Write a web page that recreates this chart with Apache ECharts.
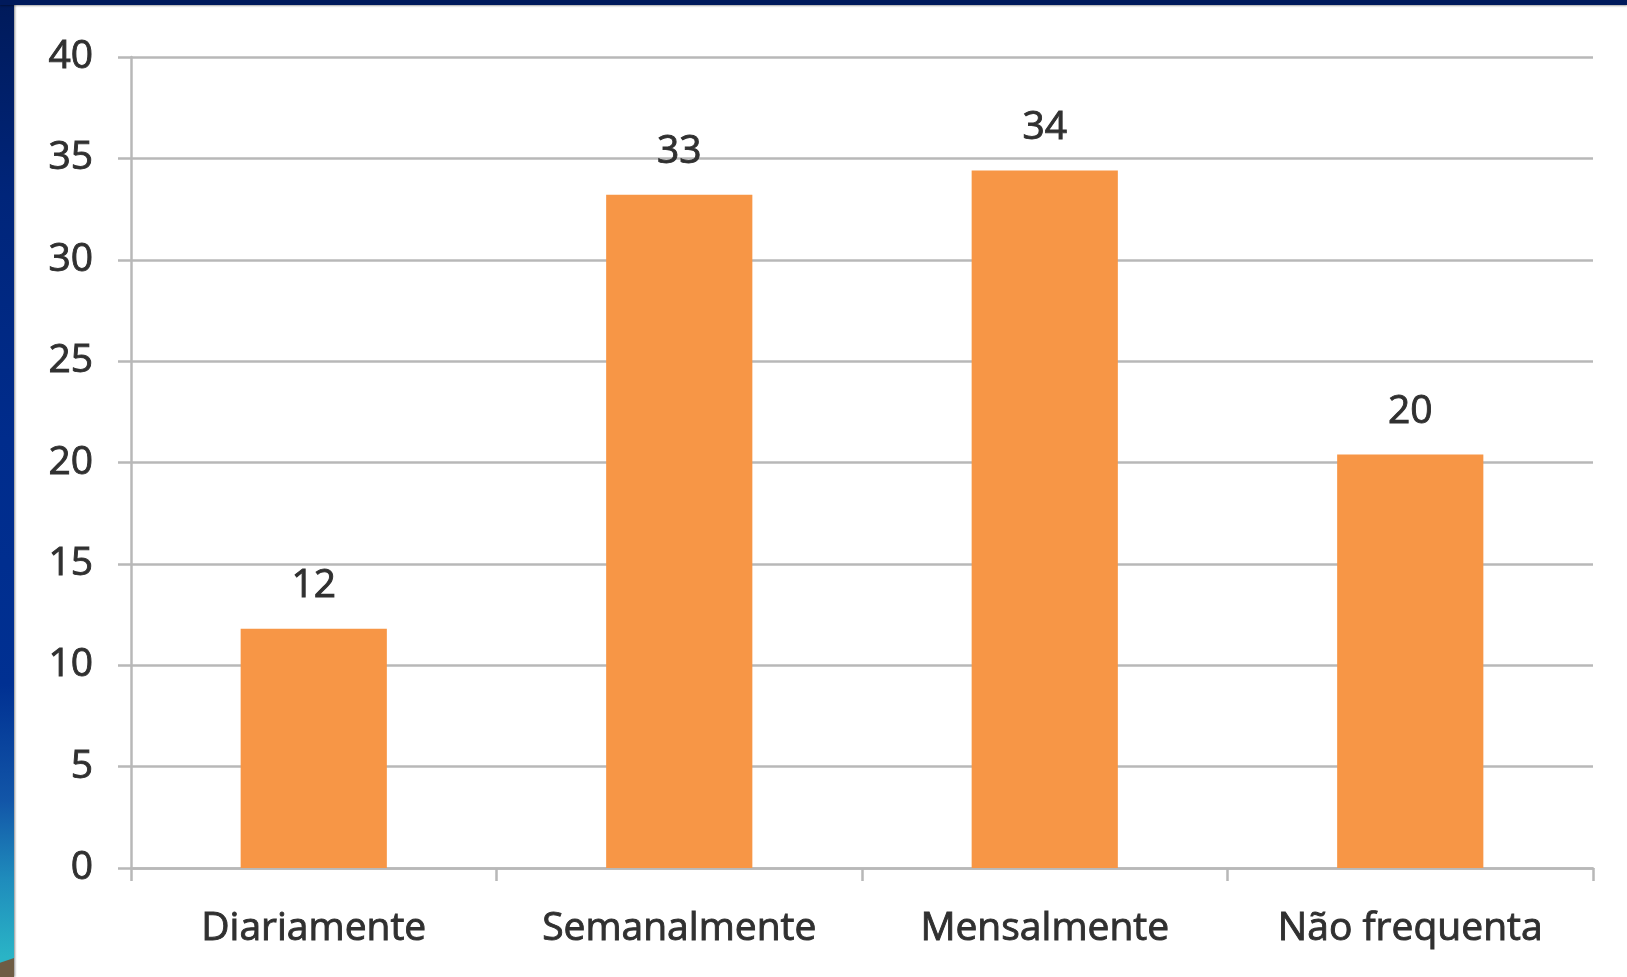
<!DOCTYPE html>
<html>
<head>
<meta charset="utf-8">
<script src="https://cdn.jsdelivr.net/npm/echarts@6/dist/echarts.min.js"></script>
<style>
  html, body { margin: 0; padding: 0; width: 1627px; height: 977px; overflow: hidden; background: #ffffff; }
  #top { position: absolute; left: 0; top: 0; width: 1627px; height: 5px; background: #001a5c; box-shadow: 0 1px 2px rgba(0,0,0,0.35); }
  #left { position: absolute; left: 0; top: 0; width: 14px; height: 977px;
    background: linear-gradient(to bottom, #001a5a 0%, #00257a 20%, #002c8c 45%, #003092 70%, #1256a8 82%, #1f8cbc 90%, #2ab4c6 98%);
    box-shadow: 1px 0 2px rgba(0,0,0,0.45); }
  #corner { position: absolute; left: 0; top: 958px; width: 14px; height: 19px; background: #6e5c44; clip-path: polygon(0 25%, 100% 0, 100% 100%, 0 100%); }
  #chart { position: absolute; left: 0; top: 0; width: 1627px; height: 977px; }
</style>
</head>
<body>
<div id="chart"></div>
<div id="left"></div>
<div id="corner"></div>
<div id="top"></div>
<script>
const categories = ["Diariamente", "Semanalmente", "Mensalmente", "Não frequenta"];
const values = [11.8, 33.2, 34.4, 20.4];
const yTicks = { min: 0, max: 40, interval: 5 };

const chart = echarts.init(document.getElementById('chart'), null, { renderer: 'canvas' });
const fontFamily = '"Open Sans", Lato, sans-serif';
const textColor = '#303030';
const gridColor = '#b8b8b8';
const textStyle = {
  color: textColor, fontFamily: fontFamily, fontSize: 39,
  textBorderColor: textColor, textBorderWidth: 0.9
};
chart.setOption({
  animation: false,
  backgroundColor: 'transparent',
  grid: { left: 131, right: 34, top: 57, bottom: 109, containLabel: false },
  xAxis: {
    type: 'category',
    data: categories,
    axisLine: { show: true, lineStyle: { color: gridColor, width: 2.5 } },
    axisTick: { show: true, length: 13, alignWithLabel: false, lineStyle: { color: gridColor, width: 2.5 } },
    axisLabel: Object.assign({ margin: 41 }, textStyle),
    splitLine: { show: false }
  },
  yAxis: {
    type: 'value',
    min: yTicks.min, max: yTicks.max, interval: yTicks.interval,
    axisLine: { show: true, lineStyle: { color: gridColor, width: 2.5 } },
    axisTick: { show: true, length: 13, lineStyle: { color: gridColor, width: 2.5 } },
    axisLabel: Object.assign({ margin: 38 }, textStyle),
    splitLine: { show: true, lineStyle: { color: gridColor, width: 2.5 } }
  },
  series: [{
    type: 'bar',
    data: values,
    barWidth: '40%',
    itemStyle: { color: '#f79646' },
    label: Object.assign({
      show: true, position: 'top', distance: 23,
      formatter: p => Math.round(p.value)
    }, textStyle)
  }]
});
</script>
</body>
</html>
